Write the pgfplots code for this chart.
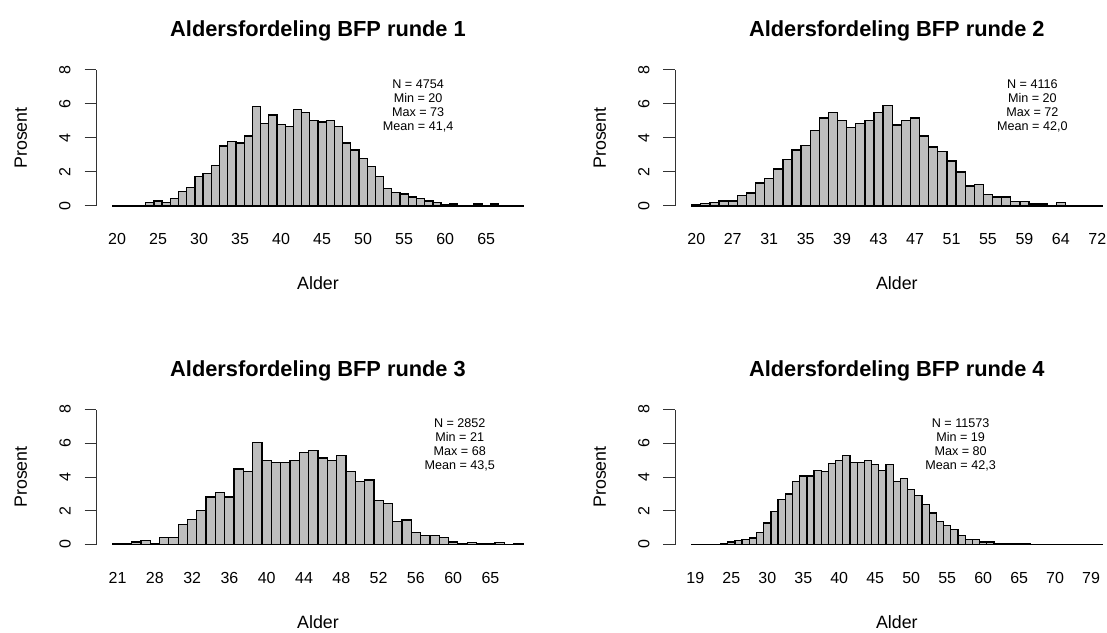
\documentclass[border=0pt]{standalone}
\usepackage{pgfplots}
\usepackage{pgfplotstable}
\pgfplotsset{compat=1.18}
\usepackage{fontspec}
\setmainfont{Liberation Sans}
\definecolor{bargray}{HTML}{BEBEBE}

\pgfplotstableread{
p
0.04
0.04
0.04
0.04
0.20
0.30
0.20
0.45
0.85
1.08
1.73
1.92
2.40
3.53
3.80
3.70
4.12
5.84
4.86
5.35
4.78
4.69
5.67
5.51
5.02
4.94
5.02
4.69
3.70
3.29
2.80
2.31
1.75
1.02
0.78
0.71
0.53
0.45
0.29
0.20
0.06
0.12
0.04
0.04
0.12
0.04
0.12
0.02
0.02
0.02
}\dataA

\pgfplotstableread{
p
0.06
0.14
0.22
0.29
0.29
0.61
0.76
1.35
1.61
2.18
2.75
3.29
3.55
4.45
5.18
5.51
5.02
4.61
4.86
5.02
5.51
5.92
4.76
5.02
5.18
4.12
3.47
3.22
2.65
2.00
1.18
1.25
0.69
0.53
0.53
0.27
0.27
0.12
0.12
0.04
0.20
0.04
0.04
0.04
0.04
}\dataB

\pgfplotstableread{
p
0.03
0.06
0.14
0.24
0.06
0.40
0.40
1.20
1.47
2.02
2.82
3.10
2.82
4.47
4.31
6.04
4.96
4.86
4.86
4.96
5.45
5.55
5.12
4.96
5.29
4.31
3.73
3.82
2.61
2.41
1.35
1.45
0.71
0.55
0.55
0.40
0.14
0.06
0.12
0.06
0.06
0.12
0.02
0.06
}\dataC

\pgfplotstableread{
p
0.02
0.02
0.02
0.02
0.06
0.14
0.24
0.31
0.39
0.71
1.27
1.94
2.67
3.00
3.75
4.06
4.06
4.39
4.31
4.80
4.96
5.29
4.88
4.88
4.96
4.73
4.39
4.73
3.75
3.90
3.25
2.92
2.35
1.86
1.37
1.12
0.88
0.55
0.29
0.29
0.14
0.14
0.06
0.04
0.04
0.04
0.04
0.02
0.02
0.02
0.02
0.02
0.02
0.02
0.02
0.02
0.02
}\dataD

\pgfplotsset{
  panel/.style={
    scale only axis, width=443pt, height=136pt,
    ymin=0, ymax=8, enlargelimits=false, clip=false,
    axis x line*=bottom, axis y line*=left,
    x axis line style={draw=none},
    y axis line style={-, line width=1pt, black!80},
    xtick style={draw=none},
    ytick={0,2,4,6,8}, yticklabels={0,2,4,6,8},
    ytick style={line width=1pt, black!80},
    tick align=outside, major tick length=12pt,
    /pgf/number format/assume math mode=true,
    tick label style={font=\fontsize{16}{18}\selectfont},
    xticklabel style={anchor=base, yshift=-27pt},
    every y tick label/.style={xshift=-14pt, rotate=90, anchor=base},
    xlabel={Alder}, ylabel={Prosent},
    every axis x label/.style={at={(axis description cs:0.5,0)}, anchor=base, yshift=-84pt, font=\fontsize{17.8}{20}\selectfont},
    every axis y label/.style={at={(axis description cs:0,0.5)}, xshift=-69.5pt, rotate=90, anchor=base, font=\fontsize{17.8}{20}\selectfont},
    every axis title/.style={at={(axis description cs:0.5,1)}, anchor=base, yshift=33.3pt, font=\fontsize{21.8}{24}\selectfont\bfseries},
    ybar, bar width=1, bar shift=0pt,
    cycle list={{fill=bargray, draw=black, line width=1.3pt}},
  },
}
\tikzset{stats/.style={anchor=north, inner sep=0pt, align=center, font=\fontsize{12.6}{14}\selectfont}}

\begin{document}
\begin{tikzpicture}
\useasboundingbox (0,0) rectangle (1107pt,632pt);

\begin{axis}[panel, at={(96.5pt,426pt)}, anchor=south west,
  xmin=-2.5, xmax=51.5,
  xtick={0,5,10,15,20,25,30,35,40,45},
  xticklabels={20,25,30,35,40,45,50,55,60,65},
  title={Aldersfordeling BFP runde 1}]
\addplot[fill=bargray, draw=black, line width=1.3pt] table[x expr=\coordindex, y=p] {\dataA};
\node[stats] at (axis description cs:0.726,0.93) {N = 4754\\Min = 20\\Max = 73\\Mean = 41,4};
\end{axis}

\begin{axis}[panel, at={(675.3pt,426pt)}, anchor=south west,
  xmin=-2.3, xmax=46.3,
  xtick={0,4,8,12,16,20,24,28,32,36,40,44},
  xticklabels={20,27,31,35,39,43,47,51,55,59,64,72},
  title={Aldersfordeling BFP runde 2}]
\addplot[fill=bargray, draw=black, line width=1.3pt] table[x expr=\coordindex, y=p] {\dataB};
\node[stats] at (axis description cs:0.806,0.93) {N = 4116\\Min = 20\\Max = 72\\Mean = 42,0};
\end{axis}

\begin{axis}[panel, at={(96.5pt,87.5pt)}, anchor=south west, height=135pt,
  xmin=-2.26, xmax=45.26,
  xtick={0,4,8,12,16,20,24,28,32,36,40},
  xticklabels={21,28,32,36,40,44,48,52,56,60,65},
  title={Aldersfordeling BFP runde 3}]
\addplot[fill=bargray, draw=black, line width=1.3pt] table[x expr=\coordindex, y=p] {\dataC};
\node[stats] at (axis description cs:0.82,0.93) {N = 2852\\Min = 21\\Max = 68\\Mean = 43,5};
\end{axis}

\begin{axis}[panel, at={(675.3pt,87.5pt)}, anchor=south west, height=135pt,
  xmin=-2.78, xmax=58.78,
  xtick={0,5,10,15,20,25,30,35,40,45,50,55},
  xticklabels={19,25,30,35,40,45,50,55,60,65,70,79},
  title={Aldersfordeling BFP runde 4}]
\addplot[fill=bargray, draw=black, line width=1.3pt] table[x expr=\coordindex, y=p] {\dataD};
\node[stats] at (axis description cs:0.644,0.93) {N = 11573\\Min = 19\\Max = 80\\Mean = 42,3};
\end{axis}
\end{tikzpicture}
\end{document}
